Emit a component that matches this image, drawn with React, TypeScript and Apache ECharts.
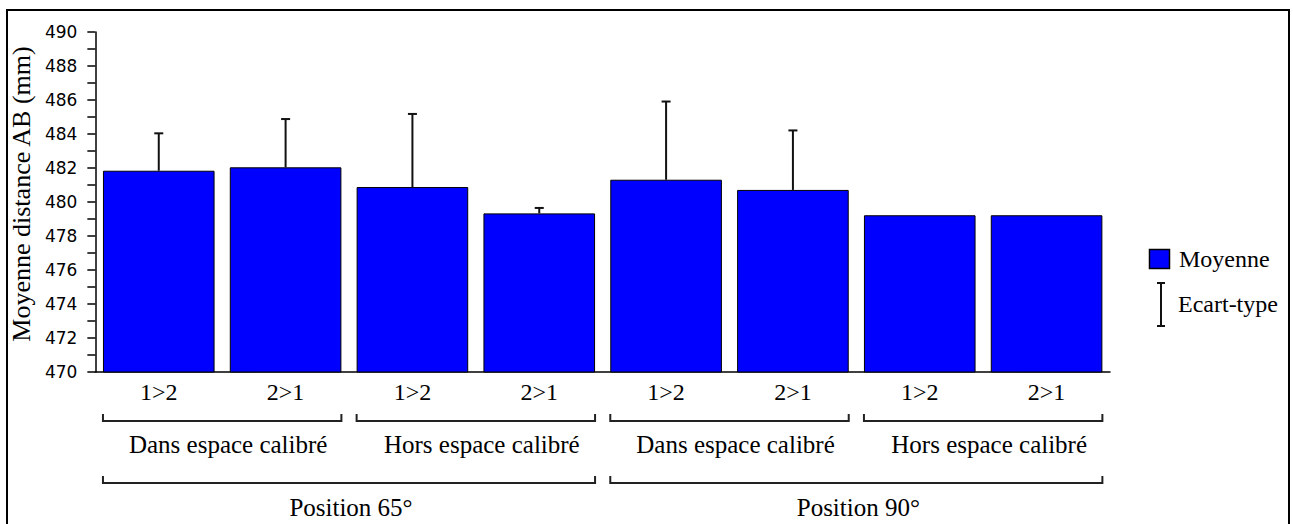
import React, { useEffect, useRef } from "react";
import * as echarts from "echarts";

// ---- data ----
const comparisons = ["1>2", "2>1", "1>2", "2>1", "1>2", "2>1", "1>2", "2>1"];
const means = [481.84, 482.04, 480.88, 479.33, 481.31, 480.71, 479.22, 479.22];
const stdDevs: (number | null)[] = [2.2, 2.84, 4.3, 0.32, 4.6, 3.5, null, null];
const spaceGroups = ["Dans espace calibré", "Hors espace calibré", "Dans espace calibré", "Hors espace calibré"];
const positionGroups = ["Position 65°", "Position 90°"];
const yMin = 470;
const yMax = 490;
const yInterval = 2;
const yTitle = "Moyenne distance AB (mm)";
const legendLabels = ["Moyenne", "Ecart-type"];

const SERIF = '"Liberation Serif", "Times New Roman", serif';
const SANS = '"DejaVu Sans", Verdana, sans-serif';
const BAR_GAP = 0.12;

export default function App() {
  const ref = useRef<HTMLDivElement>(null);

  useEffect(() => {
    if (!ref.current) return;
    const chart = echarts.init(ref.current, undefined, { renderer: "svg" });
    const lineStyle = { color: "#000", width: 1.5 };

    chart.setOption({
      animation: false,
      backgroundColor: "#fff",
      grid: { left: 95, right: 183, top: 32, bottom: 152 },
      xAxis: {
        type: "category",
        data: comparisons,
        axisLine: { lineStyle },
        axisTick: { alignWithLabel: true, length: 4, lineStyle: { color: "#000", width: 1 } },
        axisLabel: { interval: 0, color: "#000", fontFamily: SERIF, fontSize: 24, margin: 8 },
      },
      yAxis: {
        type: "value",
        min: yMin,
        max: yMax,
        interval: yInterval,
        name: yTitle,
        nameLocation: "middle",
        nameGap: 58,
        nameTextStyle: { color: "#000", fontFamily: SERIF, fontSize: 26, padding: [0, 0, 0, 16] },
        axisLine: { show: true, lineStyle },
        axisTick: { show: true, length: 8, lineStyle: { color: "#000", width: 1.5 } },
        minorTick: { show: true, splitNumber: 2, length: 8, lineStyle: { color: "#000", width: 1.5 } },
        splitLine: { show: false },
        axisLabel: { color: "#000", fontFamily: SANS, fontSize: 17, margin: 18 },
      },
      series: [
        {
          type: "bar",
          name: legendLabels[0],
          data: means,
          barCategoryGap: BAR_GAP * 100 + "%",
          itemStyle: { color: "#0000ff", borderColor: "#000", borderWidth: 1 },
        },
        {
          type: "custom",
          name: legendLabels[1],
          encode: { x: 0, y: 1 },
          data: means.map((m, i) => [i, m, stdDevs[i]]),
          z: 5,
          renderItem: (params: any, api: any) => {
            const sd = api.value(2);
            if (!sd || isNaN(sd)) return null;
            const idx = api.value(0);
            const mean = api.value(1);
            const base = api.coord([idx, mean]);
            const top = api.coord([idx, mean + sd]);
            const style = { stroke: "#111", lineWidth: 2 };
            return {
              type: "group",
              children: [
                { type: "line", shape: { x1: base[0], y1: base[1], x2: top[0], y2: top[1] }, style },
                { type: "line", shape: { x1: top[0] - 4.5, y1: top[1], x2: top[0] + 4.5, y2: top[1] }, style },
              ],
            };
          },
        },
      ],
    });

    // group brackets computed from the axis scale
    const xs = comparisons.map((_, i) => chart.convertToPixel({ xAxisIndex: 0 }, i) as number);
    const catW = xs[1] - xs[0];
    const barW = catW * (1 - BAR_GAP);
    const axisY = chart.convertToPixel({ yAxisIndex: 0 }, yMin) as number;
    const stroke = { stroke: "#222", lineWidth: 2, fill: "none" };

    const bracket = (i0: number, i1: number, y: number) => {
      const x0 = xs[i0] - barW / 2;
      const x1 = xs[i1] + barW / 2;
      return {
        type: "polyline",
        shape: { points: [[x0, y - 7], [x0, y], [x1, y], [x1, y - 7]] },
        style: stroke,
        silent: true,
      };
    };

    const graphics: any[] = [];
    spaceGroups.forEach((label, g) => {
      const i0 = g * 2;
      const i1 = g * 2 + 1;
      graphics.push(bracket(i0, i1, axisY + 49));
      graphics.push({
        type: "text",
        x: (xs[i0] + xs[i1]) / 2 + 6,
        y: axisY + 72,
        style: { text: label, font: `25px ${SERIF}`, fill: "#000", textAlign: "center", textVerticalAlign: "middle" },
      });
    });
    positionGroups.forEach((label, g) => {
      const i0 = g * 4;
      const i1 = g * 4 + 3;
      graphics.push(bracket(i0, i1, axisY + 111));
      graphics.push({
        type: "text",
        x: (xs[i0] + xs[i1]) / 2 + 2,
        y: axisY + 135,
        style: { text: label, font: `25px ${SERIF}`, fill: "#000", textAlign: "center", textVerticalAlign: "middle" },
      });
    });

    // legend
    graphics.push({
      type: "rect",
      shape: { x: 1149.5, y: 249.5, width: 20, height: 19 },
      style: { fill: "#0000ff", stroke: "#000", lineWidth: 1.5 },
    });
    graphics.push({
      type: "text",
      x: 1179,
      y: 259,
      style: { text: legendLabels[0], font: `24px ${SERIF}`, fill: "#000", textAlign: "left", textVerticalAlign: "middle" },
    });
    const lg = { stroke: "#111", lineWidth: 2 };
    graphics.push({ type: "line", shape: { x1: 1161, y1: 283, x2: 1161, y2: 326 }, style: lg });
    graphics.push({ type: "line", shape: { x1: 1157, y1: 283, x2: 1165, y2: 283 }, style: lg });
    graphics.push({ type: "line", shape: { x1: 1157, y1: 326, x2: 1165, y2: 326 }, style: lg });
    graphics.push({
      type: "text",
      x: 1178,
      y: 304,
      style: { text: legendLabels[1], font: `24px ${SERIF}`, fill: "#000", textAlign: "left", textVerticalAlign: "middle" },
    });

    // outer frame
    graphics.push({
      type: "rect",
      shape: { x: 7, y: 10, width: 1282, height: 530 },
      style: { fill: "none", stroke: "#000", lineWidth: 2 },
      silent: true,
    });

    chart.setOption({ graphic: graphics });

    return () => chart.dispose();
  }, []);

  return (
    <div
      ref={ref}
      style={{ position: "fixed", left: 0, top: 0, width: 1293, height: 524, background: "#fff" }}
    />
  );
}
